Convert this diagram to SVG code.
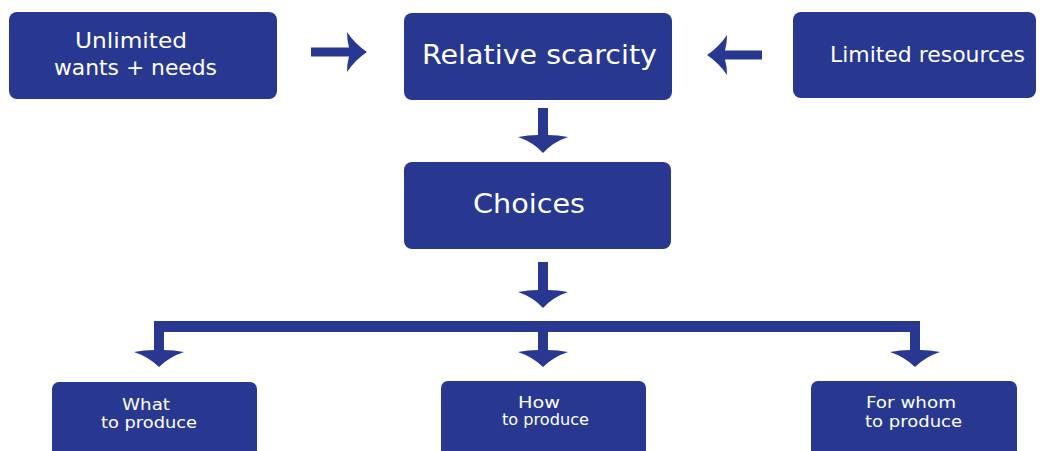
<svg xmlns="http://www.w3.org/2000/svg" width="1050" height="451" viewBox="0 0 1050 451">
<style>
.box{fill:#283891}
.arr{fill:#283891}
.t{fill:#ffffff;font-family:"DejaVu Sans","Liberation Sans",sans-serif;text-anchor:middle}
.big{font-size:26px}
.mid{font-size:21px}
.sm{font-size:15.5px}
</style>
<rect width="1050" height="451" fill="#ffffff"/>
<g id="node-unlimited">
<rect class="box" x="9" y="12" width="268" height="87" rx="8"/>
<text class="t mid" x="131" y="48" textLength="112" lengthAdjust="spacingAndGlyphs">Unlimited</text>
<text class="t mid" x="135.5" y="75" textLength="163" lengthAdjust="spacingAndGlyphs">wants + needs</text>
</g>
<g id="node-scarcity">
<rect class="box" x="404" y="13" width="268" height="87" rx="8"/>
<text class="t big" x="539.5" y="64" textLength="235" lengthAdjust="spacingAndGlyphs">Relative scarcity</text>
</g>
<g id="node-resources">
<rect class="box" x="793" y="12" width="243" height="86" rx="8"/>
<text class="t mid" x="927.5" y="62" textLength="195" lengthAdjust="spacingAndGlyphs">Limited resources</text>
</g>
<g id="node-choices">
<rect class="box" x="404" y="162" width="267" height="87" rx="8"/>
<text class="t big" x="529" y="213" textLength="112" lengthAdjust="spacingAndGlyphs">Choices</text>
</g>
<g id="node-what">
<rect class="box" x="52" y="382" width="205" height="80" rx="7"/>
<text class="t sm" x="146" y="410" textLength="48" lengthAdjust="spacingAndGlyphs">What</text>
<text class="t sm" x="149" y="428" textLength="96" lengthAdjust="spacingAndGlyphs">to produce</text>
</g>
<g id="node-how">
<rect class="box" x="441" y="381" width="205" height="80" rx="7"/>
<text class="t sm" x="539" y="408" textLength="42" lengthAdjust="spacingAndGlyphs">How</text>
<text class="t sm" x="545.5" y="425" textLength="87" lengthAdjust="spacingAndGlyphs">to produce</text>
</g>
<g id="node-whom">
<rect class="box" x="811" y="381" width="206" height="80" rx="7"/>
<text class="t sm" x="911" y="408" textLength="90" lengthAdjust="spacingAndGlyphs">For whom</text>
<text class="t sm" x="913.5" y="427" textLength="97" lengthAdjust="spacingAndGlyphs">to produce</text>
</g>
<g id="connectors">
<path class="arr" d="M367,52 Q355,44 347,32 Q347,41 349,47.5 L311,47.5 L311,56.5 L349,56.5 Q347,63 347,72 Q355,60 367,52 Z"/>
<path class="arr" d="M707,55 Q719,47 727,35 Q727,44 725,50.5 L762,50.5 L762,59.5 L725,59.5 Q727,66 727,75 Q719,63 707,55 Z"/>
<path class="arr" d="M543,153 Q533,142 518,137 Q528,135 538,135 L538,108 L548,108 L548,135 Q558,135 568,137 Q553,142 543,153 Z"/>
<path class="arr" d="M543,308 Q533,297 518,292 Q528,290 538,290 L538,262 L548,262 L548,290 Q558,290 568,292 Q553,297 543,308 Z"/>
<rect class="arr" x="154" y="321" width="766" height="11"/>
<path class="arr" d="M159,367 Q149,357 134,352 Q144,350 154,350 L154,325 L164,325 L164,350 Q174,350 184,352 Q169,357 159,367 Z"/>
<path class="arr" d="M543,367 Q533,357 518,352 Q528,350 538,350 L538,325 L548,325 L548,350 Q558,350 568,352 Q553,357 543,367 Z"/>
<path class="arr" d="M915,367 Q905,357 890,352 Q900,350 910,350 L910,325 L920,325 L920,350 Q930,350 940,352 Q925,357 915,367 Z"/>
</g>
</svg>
